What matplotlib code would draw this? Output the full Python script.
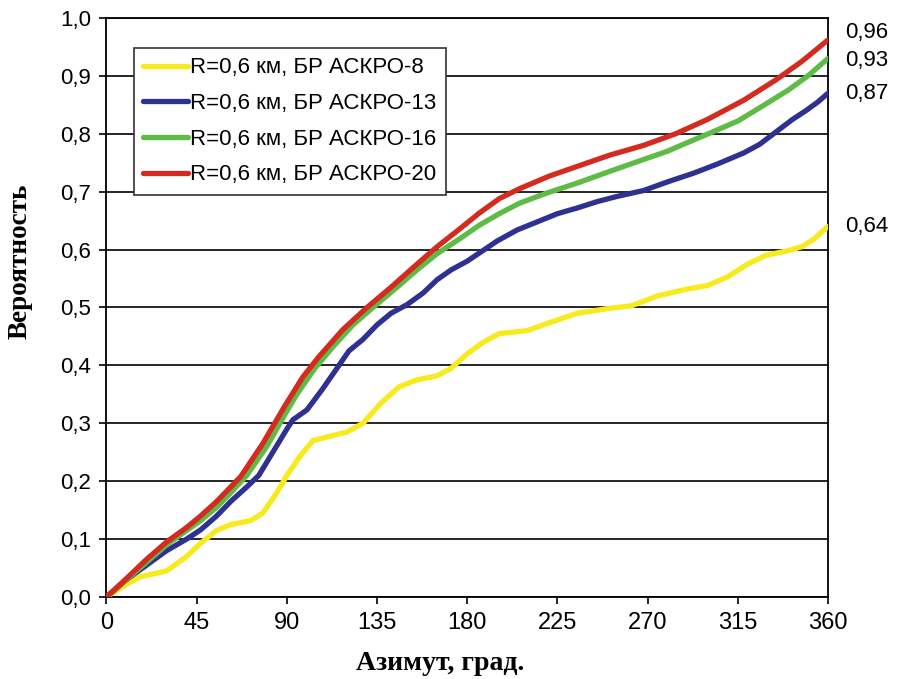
import numpy as np
import matplotlib.pyplot as plt

# values
az_yellow = [0, 10, 17, 30, 40, 47, 55, 62, 72, 78, 85, 90, 97, 103, 112, 120, 128, 137, 146, 155, 165,
             172, 180, 188, 196, 210, 222, 235, 250, 262, 275, 290, 300, 310, 320, 329, 340, 347, 353, 360]
p_yellow = [0, 0.022, 0.035, 0.045, 0.07, 0.093, 0.115, 0.125, 0.132, 0.145, 0.18, 0.21, 0.245, 0.27, 0.278,
            0.285, 0.30, 0.335, 0.363, 0.375, 0.382, 0.395, 0.42, 0.44, 0.455, 0.46, 0.475, 0.49, 0.498, 0.503,
            0.52, 0.532, 0.538, 0.553, 0.575, 0.59, 0.598, 0.605, 0.618, 0.64]

az_blue = [0, 10, 20, 30, 40, 47, 55, 62, 70, 76, 83, 90, 93, 100, 108, 115, 121, 128, 135, 142, 150, 158,
           165, 172, 180, 186, 195, 205, 215, 225, 235, 245, 255, 268, 280, 293, 305, 318, 326, 334, 342, 349,
           355, 360]
p_blue = [0, 0.03, 0.055, 0.08, 0.10, 0.116, 0.14, 0.165, 0.19, 0.21, 0.25, 0.29, 0.306, 0.323, 0.36, 0.395,
          0.425, 0.445, 0.47, 0.49, 0.505, 0.525, 0.548, 0.565, 0.58, 0.594, 0.615, 0.634, 0.648, 0.662, 0.672,
          0.683, 0.692, 0.702, 0.717, 0.732, 0.748, 0.767, 0.782, 0.803, 0.824, 0.84, 0.855, 0.87]

az_green = [0, 10, 20, 30, 40, 47, 55, 62, 70, 80, 89, 95, 104, 113, 123, 133, 145, 155, 165, 176, 186, 196,
            206, 220, 235, 251, 265, 280, 290, 301, 315, 326, 340, 350, 360]
p_green = [0, 0.03, 0.06, 0.09, 0.115, 0.132, 0.155, 0.18, 0.21, 0.26, 0.315, 0.35, 0.395, 0.432, 0.47, 0.50,
           0.535, 0.565, 0.593, 0.618, 0.642, 0.662, 0.68, 0.698, 0.715, 0.735, 0.752, 0.77, 0.785, 0.801,
           0.822, 0.845, 0.875, 0.9, 0.93]

az_red = [0, 10, 20, 30, 40, 47, 55, 67, 78, 89, 98, 106, 118, 130, 142, 155, 165, 176, 186, 196, 206, 221,
          236, 251, 268, 284, 300, 318, 334, 347, 360]
p_red = [0, 0.032, 0.065, 0.095, 0.12, 0.14, 0.165, 0.208, 0.265, 0.33, 0.38, 0.415, 0.462, 0.50, 0.535,
         0.575, 0.605, 0.635, 0.663, 0.688, 0.705, 0.727, 0.745, 0.763, 0.78, 0.80, 0.825, 0.858, 0.893,
         0.925, 0.962]

labels = ['R=0,6 км, БР АСКРО-8', 'R=0,6 км, БР АСКРО-13',
          'R=0,6 км, БР АСКРО-16', 'R=0,6 км, БР АСКРО-20']
end_texts = ['0,96', '0,93', '0,87', '0,64']
end_text_y = [0.975, 0.927, 0.87, 0.64]

colors = ['#F7EA1E', '#2E3192', '#5DBB46', '#D42A1F']

plt.rcParams['font.family'] = ['Liberation Sans', 'DejaVu Sans']

fig = plt.figure(figsize=(8.97, 6.79), dpi=100)
ax = fig.add_axes([0.1187, 0.1208, 0.8043, 0.8527])

series = [(az_yellow, p_yellow), (az_blue, p_blue), (az_green, p_green), (az_red, p_red)]
for (x, y), c, lab in zip(series, colors, labels):
    ax.plot(x, y, color=c, lw=3.8, label=lab, solid_joinstyle='round', solid_capstyle='round', zorder=3)

ax.set_xlim(0, 360)
ax.set_ylim(0, 1.0)
ax.set_xticks(np.arange(0, 361, 45))
ax.set_yticks(np.arange(0, 1.01, 0.1))
ax.set_yticklabels([f'{v:.1f}'.replace('.', ',') for v in np.arange(0, 1.01, 0.1)])
ax.yaxis.grid(True, color='black', lw=1.2)
ax.set_axisbelow(True)
for s in ax.spines.values():
    s.set_linewidth(1.3)
ax.tick_params(axis='x', labelsize=17, length=5, width=1.2, pad=6)
ax.tick_params(axis='y', labelsize=16, length=5, width=1.2, pad=6)

ax.set_xlabel('Азимут, град.', fontsize=20, fontweight='bold', family='Liberation Serif')
ax.set_ylabel('Вероятность', fontsize=19.5, fontweight='bold', family='Liberation Serif')
ax.xaxis.set_label_coords(0.463, -0.093)
ax.yaxis.set_label_coords(-0.102, 0.58)

for t, yv in zip(end_texts, end_text_y):
    ax.text(368.5, yv, t, fontsize=16, va='center', ha='left', clip_on=False)

leg = ax.legend(loc='upper left', bbox_to_anchor=(0.1494, 0.9293), bbox_transform=fig.transFigure,
                fontsize=16, frameon=True, fancybox=False, handlelength=2.0, handletextpad=0.1,
                labelspacing=0.66, borderpad=0.42, borderaxespad=0)
leg.get_frame().set_edgecolor('#333333')
leg.get_frame().set_linewidth(1.2)
leg.get_frame().set_alpha(1)

plt.savefig('out.png', dpi=100)
